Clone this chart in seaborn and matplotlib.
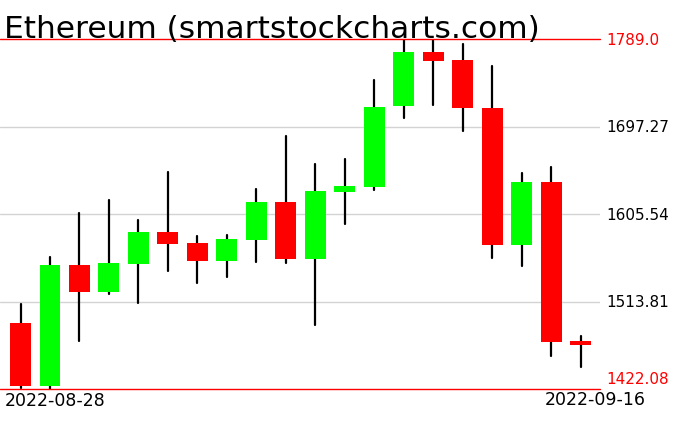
import pandas as pd
import numpy as np
import matplotlib
matplotlib.use('Agg')
import matplotlib.pyplot as plt
import seaborn as sns

# daily candles
dates = pd.date_range('2022-08-28', '2022-09-16', freq='D').strftime('%Y-%m-%d').tolist()
opens = [1491.3, 1425.6, 1552.2, 1524.2, 1553.6, 1586.8, 1575.3, 1556.7, 1578.7, 1618.3,
         1558.8, 1629.1, 1634.3, 1718.3, 1774.9, 1766.5, 1716.9, 1573.5, 1638.6, 1472.5]
highs = [1511.3, 1560.6, 1606.7, 1620.4, 1599.4, 1649.8, 1582.6, 1583.7, 1631.9, 1687.5,
         1658.2, 1663.1, 1746.3, 1789.0, 1789.0, 1783.3, 1761.0, 1648.0, 1655.0, 1478.0]
lows = [1423.5, 1422.08, 1472.8, 1522.0, 1512.6, 1546.2, 1533.6, 1539.9, 1555.7, 1554.6,
        1489.6, 1594.9, 1630.2, 1706.1, 1719.3, 1692.1, 1559.9, 1551.5, 1457.0, 1445.5]
closes = [1425.6, 1552.2, 1524.2, 1554.3, 1586.8, 1574.6, 1556.7, 1579.5, 1618.3, 1558.8,
          1629.8, 1635.1, 1718.0, 1774.9, 1765.5, 1716.2, 1573.5, 1638.6, 1471.7, 1468.6]

grid_levels = [1697.27, 1605.54, 1513.81]
y_top = 1789.0
y_bottom = 1422.08

df = pd.DataFrame({'date': dates, 'open': opens, 'high': highs, 'low': lows, 'close': closes})
df['pos'] = np.arange(len(df))
df['up'] = df['close'] >= df['open']

sns.set_style('white')
plt.rcParams['font.family'] = ['DejaVu Sans']
plt.rcParams['text.color'] = 'black'

fig = plt.figure(figsize=(6.76, 4.31), dpi=100)
ax = fig.add_axes([0, 41 / 431, 600 / 676, 350 / 431])

# wicks as vertical line segments (one unit per candle)
wicks = pd.concat([
    df[['pos', 'date']].assign(price=df['low']),
    df[['pos', 'date']].assign(price=df['high']),
])
sns.lineplot(data=wicks, x='pos', y='price', units='date', estimator=None,
             color='black', linewidth=1.6, ax=ax, zorder=2)

# bodies
body_colors = np.where(df['up'], '#00ff00', '#ff0000')
bottoms = np.minimum(df['open'], df['close'])
heights = np.maximum(np.abs(df['close'] - df['open']), 2.0)
ax.bar(df['pos'], heights, bottom=bottoms, width=0.71, color=body_colors,
       linewidth=0, zorder=3)

for lvl in grid_levels:
    ax.axhline(lvl, color='#d3d3d3', linewidth=1.0, zorder=1)
ax.axhline(y_top, color='#ff0000', linewidth=1.0, zorder=4, clip_on=False)
ax.axhline(y_bottom, color='#ff0000', linewidth=1.0, zorder=4, clip_on=False)

ax.set_xlim(-0.696, 19.66)
ax.set_ylim(y_bottom, y_top)
ax.set_xticks([])
ax.set_yticks([])
ax.set_xlabel('')
ax.set_ylabel('')
for s in ax.spines.values():
    s.set_visible(False)

# right-hand price labels
trans = ax.get_yaxis_transform()
ax.text(1.01, y_top, f'{y_top:.1f}', color='#ff0000', fontsize=11,
        va='center', ha='left', transform=trans, clip_on=False)
for lvl in grid_levels:
    ax.text(1.01, lvl, f'{lvl:.2f}', color='black', fontsize=11,
            va='center', ha='left', transform=trans, clip_on=False)
fig.text(606 / 676, 1 - 380 / 431, f'{y_bottom:.2f}', color='#ff0000', fontsize=11,
         va='center', ha='left')

# first / last date labels
fig.text(5 / 676, 1 - 401 / 431, dates[0], fontsize=12.5, va='center', ha='left')
fig.text(646 / 676, 1 - 400 / 431, dates[-1], fontsize=12.5, va='center', ha='right')

fig.text(4 / 676, 1 - 38 / 431, 'Ethereum (smartstockcharts.com)', fontsize=22.5,
         va='baseline', ha='left')

fig.savefig('out.png', dpi=100)
